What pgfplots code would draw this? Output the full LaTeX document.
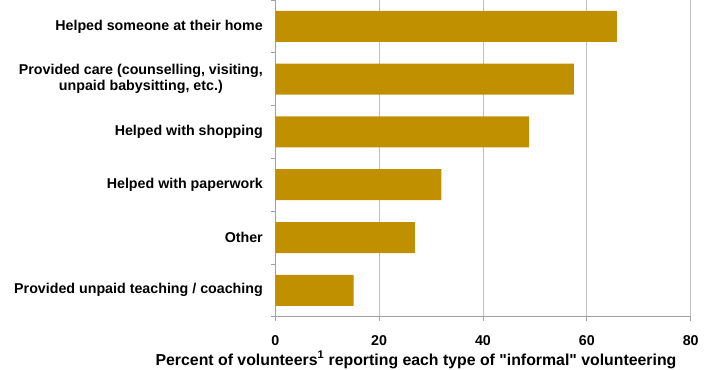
\documentclass[border=0pt]{standalone}
\usepackage{pgfplots}
\pgfplotsset{compat=1.18}
\usepackage{fontspec}
\setmainfont{Liberation Sans}
\definecolor{barc}{RGB}{192,144,0}
\definecolor{gridc}{RGB}{192,192,192}
\definecolor{axc}{RGB}{160,160,160}
\begin{document}
\begin{tikzpicture}
\path[use as bounding box] (0,0) rectangle (714bp,370bp);
\begin{axis}[
  at={(275.3bp,53.3bp)}, anchor=south west,
  scale only axis, width=415.4bp, height=316.7bp,
  xbar, bar width=31bp,
  xmin=0, xmax=80, ymin=-0.5, ymax=5.5,
  axis x line*=bottom, axis y line*=left,
  axis line style={axc, line width=0.8pt, -},
  xtick={0,20,40,60,80},
  xmajorgrids, major grid style={gridc, line width=0.8pt},
  ytick={0,1,2,3,4,5},
  yticklabels={Provided unpaid teaching / coaching, Other, Helped with paperwork, Helped with shopping, {Provided care (counselling, visiting,\\unpaid babysitting, etc.)}, Helped someone at their home},
  minor ytick={-0.5,0.5,1.5,2.5,3.5,4.5,5.5},
  major tick length=4bp, minor tick length=4bp,
  tick align=outside,
  tick style={axc, line width=0.8pt},
  major y tick style={draw=none},
  tick label style={font=\bfseries\fontsize{14.3}{16}\selectfont},
  yticklabel style={align=center, xshift=-5bp},
  xticklabel style={anchor=base, yshift=-25bp},
  /pgf/number format/assume math mode=true,
  xlabel={Percent of volunteers\textsuperscript{1} reporting each type of \textquotedbl informal\textquotedbl{} volunteering},
  xlabel style={font=\bfseries\fontsize{15.9}{18}\selectfont, at={(axis description cs:0.5,0)}, anchor=base, xshift=-67bp, yshift=-48.3bp},
]
\addplot[fill=barc, draw=none] coordinates {(15.1,0) (26.9,1) (32.0,2) (48.9,3) (57.5,4) (65.8,5)};
\end{axis}
\end{tikzpicture}
\end{document}
